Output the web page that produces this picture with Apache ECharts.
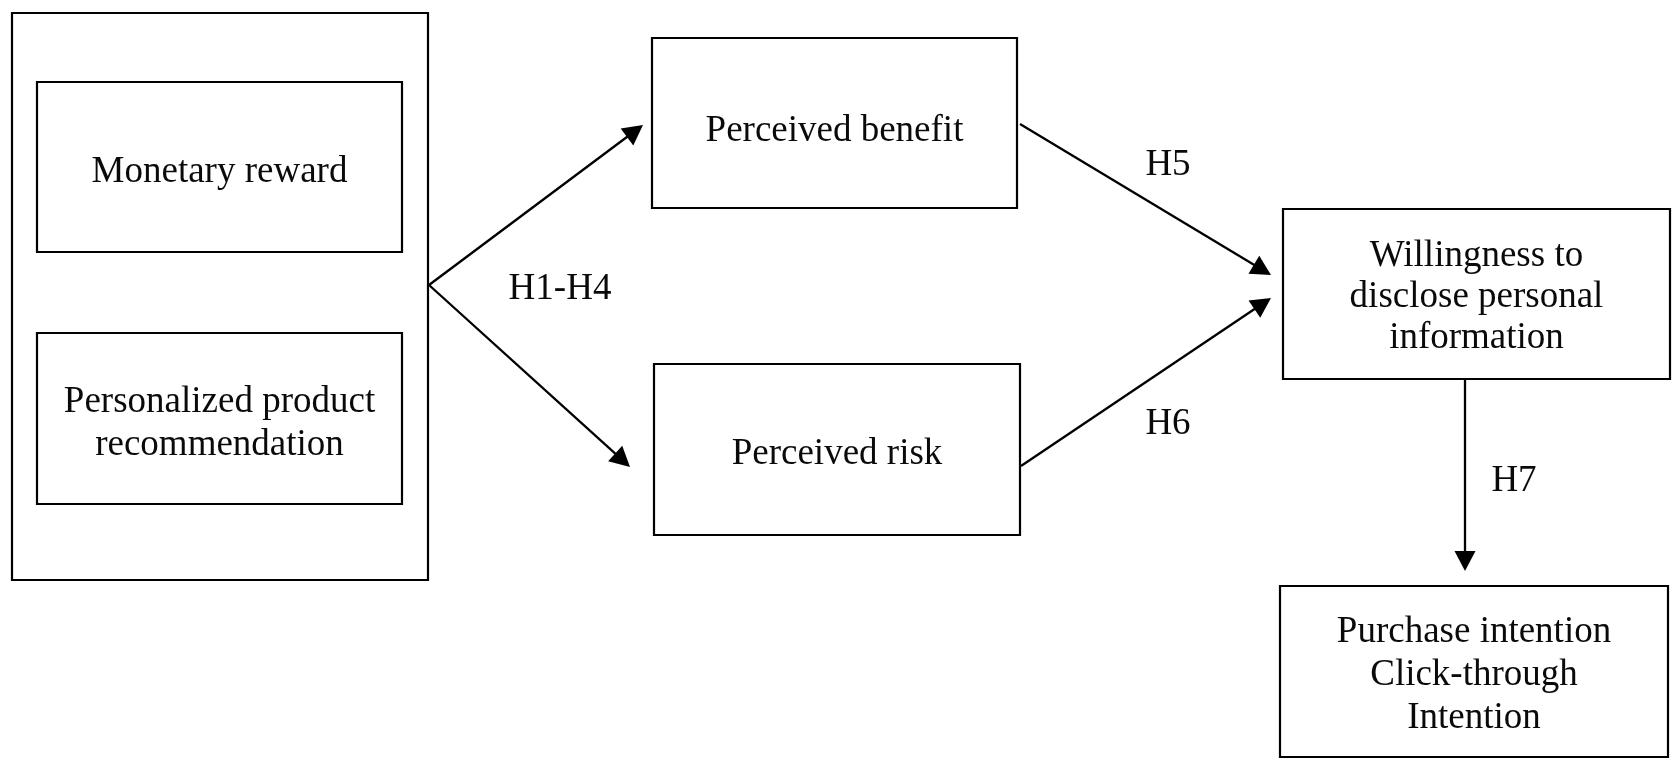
<!DOCTYPE html>
<html>
<head>
<meta charset="utf-8">
<script src="https://cdn.jsdelivr.net/npm/echarts@6/dist/echarts.min.js"></script>
<style>
html, body { margin: 0; padding: 0; background: #fff; }
#chart { width: 1674px; height: 759px; }
</style>
</head>
<body>
<div id="chart"></div>
<script>
// texts of the model
const boxLabels = [
    '',
    'Monetary reward',
    'Personalized product\nrecommendation',
    'Perceived benefit',
    'Perceived risk',
    'Willingness to\ndisclose personal\ninformation',
    'Purchase intention\nClick-through\nIntention'
];
const pathLabels = ['H1-H4', 'H5', 'H6', 'H7'];

// layout, in picture units (x right, y down)
const boxRects = [
    [12, 13, 428, 580],
    [37, 82, 402, 252],
    [37, 333, 402, 504],
    [652, 38, 1017, 208],
    [654, 364, 1020, 535],
    [1283, 209, 1670, 379],
    [1280, 586, 1668, 757]
];
const arrowEnds = [
    [429, 285, 643, 125],
    [429, 285, 630, 467],
    [1020, 124, 1271, 275],
    [1021, 466, 1271, 298],
    [1465, 379, 1465, 571]
];
const pathLabelPos = [[560, 289], [1168, 165], [1168, 424], [1514, 481]];
const textShift = [0, 5, 5, 8, 5, 3, 4];
const textLineH = [43, 43, 43, 43, 43, 41, 43];

const FONT = '37px "Liberation Serif", "DejaVu Serif", serif';
const INK = '#000';

var chart = echarts.init(document.getElementById('chart'));

function renderBox(params, api) {
    var p0 = api.coord([api.value(0), api.value(1)]);
    var p1 = api.coord([api.value(2), api.value(3)]);
    var i = params.dataIndex;
    return {
        type: 'group',
        children: [{
            type: 'rect',
            shape: { x: p0[0], y: p0[1], width: p1[0] - p0[0], height: p1[1] - p0[1] },
            style: { fill: 'none', stroke: INK, lineWidth: 2.2 }
        }, {
            type: 'text',
            style: {
                text: boxLabels[i],
                x: (p0[0] + p1[0]) / 2,
                y: (p0[1] + p1[1]) / 2 + textShift[i],
                align: 'center',
                verticalAlign: 'middle',
                font: FONT,
                lineHeight: textLineH[i],
                fill: '#0a0a0a'
            }
        }]
    };
}

function renderArrow(params, api) {
    var a = api.coord([api.value(0), api.value(1)]);
    var b = api.coord([api.value(2), api.value(3)]);
    var dx = b[0] - a[0], dy = b[1] - a[1];
    var len = Math.sqrt(dx * dx + dy * dy);
    var ux = dx / len, uy = dy / len;
    var headL = 20, headW = 10.5;
    var bx = b[0] - ux * headL, by = b[1] - uy * headL;
    return {
        type: 'group',
        children: [{
            type: 'line',
            shape: { x1: a[0], y1: a[1], x2: bx + ux * 2, y2: by + uy * 2 },
            style: { stroke: INK, lineWidth: 2.3 }
        }, {
            type: 'polygon',
            shape: { points: [
                [b[0], b[1]],
                [bx - uy * headW, by + ux * headW],
                [bx + uy * headW, by - ux * headW]
            ] },
            style: { fill: INK }
        }]
    };
}

function renderPathLabel(params, api) {
    var p = api.coord([api.value(0), api.value(1)]);
    return {
        type: 'text',
        style: {
            text: pathLabels[params.dataIndex],
            x: p[0],
            y: p[1],
            align: 'center',
            verticalAlign: 'middle',
            font: FONT,
            fill: '#0a0a0a'
        }
    };
}

var option = {
    animation: false,
    grid: { left: 0, right: 0, top: 0, bottom: 0 },
    xAxis: { type: 'value', min: 0, max: 1674, show: false },
    yAxis: { type: 'value', min: 0, max: 759, inverse: true, show: false },
    series: [{
        type: 'custom',
        renderItem: renderBox,
        data: boxRects,
        silent: true
    }, {
        type: 'custom',
        renderItem: renderArrow,
        data: arrowEnds,
        silent: true
    }, {
        type: 'custom',
        renderItem: renderPathLabel,
        data: pathLabelPos,
        silent: true
    }]
};
chart.setOption(option);
</script>
</body>
</html>
